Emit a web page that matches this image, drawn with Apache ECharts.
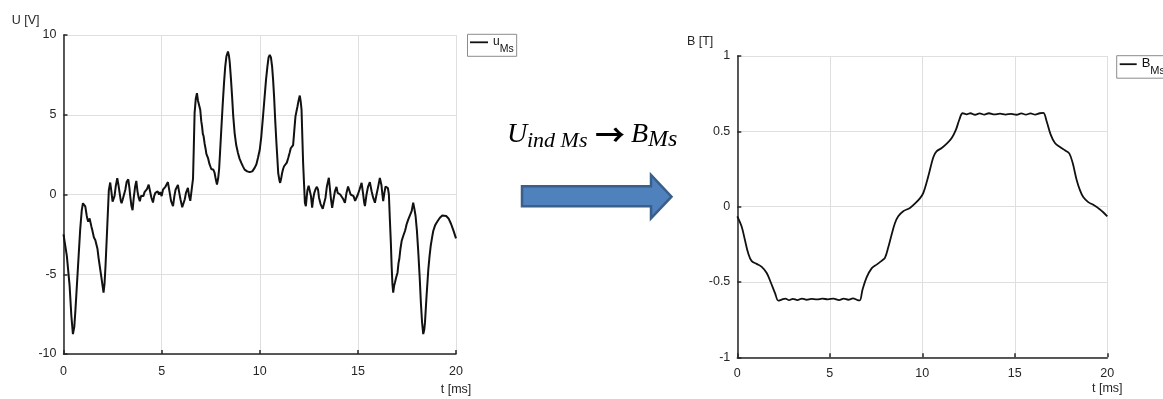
<!DOCTYPE html>
<html><head><meta charset="utf-8">
<script src="https://cdn.jsdelivr.net/npm/echarts@6/dist/echarts.min.js"></script>
<style>html,body{margin:0;padding:0;background:#fff}#c{width:1163px;height:399px}</style>
</head><body><div id="c"></div>
<script>
// ---- data ----
const timeTicks = [0, 5, 10, 15, 20];          // t [ms]
const uTicks = [-10, -5, 0, 5, 10];            // U [V]
const bTicks = [-1, -0.5, 0, 0.5, 1];          // B [T]

const tU = [
 0.00,0.17,0.31,0.40,0.48,0.55,0.61,0.73,0.85,0.93,
 0.99,1.05,1.11,1.18,1.21,1.26,1.29,1.33,1.36,1.42,
 1.46,1.55,1.62,1.67,1.73,1.79,1.92,2.04,2.09,2.14,
 2.23,2.31,2.38,2.44,2.50,2.55,2.60,2.66,2.74,2.80,
 2.86,2.92,2.96,3.02,3.06,3.15,3.22,3.30,3.36,3.40,
 3.46,3.52,3.58,3.65,3.71,3.77,3.83,3.89,3.95,4.01,
 4.07,4.13,4.20,4.26,4.34,4.41,4.48,4.56,4.62,4.68,
 4.75,4.80,4.87,4.93,5.00,5.07,5.13,5.20,5.32,5.40,
 5.48,5.58,5.65,5.71,5.83,5.90,5.96,6.05,6.12,6.18,
 6.24,6.34,6.40,6.46,6.52,6.56,6.60,6.64,6.68,6.74,
 6.80,6.85,6.89,6.93,6.97,7.02,7.06,7.10,7.14,7.19,
 7.25,7.28,7.31,7.36,7.40,7.44,7.48,7.53,7.58,7.64,
 7.70,7.76,7.82,7.88,7.93,7.98,8.04,8.11,8.18,8.24,
 8.30,8.38,8.43,8.47,8.53,8.59,8.65,8.72,8.80,8.89,
 8.97,9.06,9.15,9.23,9.36,9.49,9.62,9.74,9.83,9.91,
 10.00,10.08,10.16,10.25,10.32,10.39,10.45,10.51,10.57,10.63,
 10.68,10.73,10.79,10.85,10.90,10.94,11.00,11.04,11.09,11.14,
 11.19,11.24,11.29,11.33,11.38,11.45,11.52,11.58,11.64,11.70,
 11.76,11.82,11.87,11.92,11.98,12.04,12.09,12.13,12.17,12.21,
 12.26,12.30,12.35,12.39,12.43,12.49,12.55,12.61,12.67,12.72,
 12.78,12.85,12.91,12.97,13.02,13.10,13.21,13.28,13.35,13.42,
 13.52,13.58,13.63,13.69,13.76,13.83,13.91,13.97,14.02,14.10,
 14.16,14.26,14.34,14.42,14.50,14.56,14.63,14.70,14.78,14.86,
 14.93,15.00,15.08,15.19,15.26,15.32,15.36,15.44,15.52,15.61,
 15.70,15.78,15.87,15.95,16.02,16.12,16.20,16.25,16.29,16.35,
 16.41,16.46,16.53,16.58,16.63,16.68,16.72,16.76,16.80,16.85,
 16.89,16.95,17.02,17.07,17.11,17.17,17.23,17.27,17.31,17.36,
 17.40,17.44,17.48,17.53,17.57,17.62,17.66,17.74,17.82,17.88,
 17.94,18.01,18.08,18.15,18.21,18.27,18.33,18.38,18.42,18.50,
 18.59,18.65,18.71,18.78,18.84,18.93,19.01,19.10,19.18,19.30,
 19.40,19.50,19.62,19.75,19.88,20.00
];
const uMs = [
 -2.5,-3.85,-5.7,-7.6,-8.75,-8.3,-7.2,-4.7,-2.2,-1.0,
 -0.55,-0.6,-0.75,-1.3,-1.5,-1.7,-1.65,-1.5,-1.55,-2.0,
 -2.2,-2.7,-2.85,-2.95,-3.4,-4.0,-5.1,-6.15,-5.6,-4.5,
 -2.0,0.27,0.75,0.2,-0.45,-0.5,-0.1,0.5,1.02,0.6,
 0.1,-0.4,-0.55,-0.3,-0.2,0.3,0.8,0.95,0.4,-0.1,
 -0.7,-0.98,-0.2,0.5,0.85,0.2,-0.2,-0.42,-0.1,0.0,
 -0.1,0.15,0.05,0.35,0.62,0.2,-0.2,-0.5,-0.1,0.1,
 0.0,0.2,0.0,0.15,-0.1,0.3,0.2,0.5,0.78,0.2,
 -0.4,-0.73,-0.1,0.3,0.6,0.1,-0.3,-0.8,-0.92,-0.3,
 0.1,0.42,-0.1,-0.4,-0.52,-0.45,1.0,3.0,5.1,6.0,
 6.35,5.9,5.8,5.5,5.3,4.6,4.27,3.8,3.65,3.2,
 2.8,2.55,2.65,2.3,2.2,1.9,1.77,1.6,1.67,1.55,
 1.35,0.95,0.63,1.0,1.6,2.7,4.06,5.6,7.0,8.0,
 8.65,8.96,8.7,8.3,7.3,6.15,4.9,3.85,3.1,2.6,
 2.25,1.98,1.75,1.56,1.45,1.4,1.45,1.67,1.9,2.3,
 2.8,3.65,4.8,6.15,7.2,8.02,8.6,8.75,8.6,8.02,
 7.2,6.15,4.6,3.23,2.2,1.35,0.9,0.73,1.0,1.35,
 1.6,1.77,1.85,1.7,2.0,2.29,2.6,2.9,3.0,3.1,
 4.0,4.9,5.2,5.5,5.9,6.2,5.8,5.3,3.6,1.98,
 0.6,-0.52,-0.73,-0.2,0.27,0.55,0.65,-0.1,-0.83,-0.3,
 0.1,0.35,0.48,0.3,-0.2,-0.6,-0.9,-0.98,-0.2,0.5,
 1.05,0.3,-0.3,-0.83,-0.3,0.2,0.48,0.1,0.2,0.0,
 0.1,-0.3,-0.52,0.1,0.5,0.6,0.0,0.1,-0.1,-0.4,
 -0.52,0.0,0.3,0.73,0.1,-0.5,-0.73,0.0,0.5,0.77,
 0.2,-0.2,-0.52,0.0,0.4,1.04,0.6,0.0,-0.42,0.1,
 0.5,0.6,0.4,0.0,-1.56,-3.0,-4.48,-5.6,-6.15,-5.7,
 -5.52,-5.2,-4.9,-4.3,-4.06,-3.4,-2.92,-2.9,-2.6,-2.5,
 -2.29,-2.1,-1.88,-1.7,-1.56,-1.6,-1.5,-1.04,-0.52,-0.9,
 -1.35,-2.3,-3.65,-5.2,-6.77,-8.0,-8.75,-8.5,-8.02,-6.35,
 -4.69,-3.9,-3.23,-2.7,-2.29,-1.95,-1.77,-1.6,-1.46,-1.32,
 -1.3,-1.35,-1.5,-1.85,-2.3,-2.75
];

const tB = [
 0.00,0.23,0.41,0.59,0.77,1.05,1.32,1.59,1.80,2.04,
 2.22,2.40,2.60,2.80,3.00,3.25,3.50,3.75,4.00,4.30,
 4.60,4.90,5.20,5.50,5.75,6.00,6.25,6.50,6.62,6.77,
 6.99,7.26,7.53,7.80,7.98,8.16,8.34,8.52,8.70,8.97,
 9.33,9.60,9.87,10.05,10.32,10.60,10.77,11.05,11.32,11.59,
 11.82,12.00,12.18,12.40,12.60,12.85,13.10,13.35,13.60,13.90,
 14.20,14.50,14.80,15.10,15.35,15.60,15.85,16.10,16.35,16.54,
 16.72,16.94,17.17,17.44,17.71,17.95,18.13,18.34,18.52,18.70,
 18.97,19.24,19.57,19.78,20.00
];
const bMs = [
 -0.064,-0.13,-0.22,-0.31,-0.36,-0.38,-0.40,-0.44,-0.50,-0.574,
 -0.624,-0.617,-0.61,-0.621,-0.612,-0.62,-0.61,-0.618,-0.612,-0.616,
 -0.611,-0.615,-0.61,-0.62,-0.611,-0.618,-0.609,-0.62,-0.622,-0.55,
 -0.47,-0.41,-0.385,-0.36,-0.34,-0.27,-0.186,-0.11,-0.064,-0.03,
 -0.009,0.02,0.055,0.09,0.20,0.33,0.367,0.389,0.418,0.455,
 0.511,0.577,0.62,0.613,0.62,0.61,0.619,0.611,0.62,0.612,
 0.617,0.611,0.616,0.61,0.619,0.611,0.619,0.611,0.62,0.622,
 0.567,0.478,0.422,0.396,0.374,0.352,0.289,0.179,0.11,0.064,
 0.03,0.012,-0.015,-0.037,-0.064
];

// ---- chart ----
const pair = (xs, ys) => xs.map((x, i) => [x, ys[i]]);
const FONT = 'Liberation Sans';
const AX = '#262626';

function xAxisCfg(gridIndex, labelMargin, namePad) {
  return {
    type: 'value', gridIndex,
    min: timeTicks[0], max: timeTicks[timeTicks.length - 1],
    interval: timeTicks[1] - timeTicks[0],
    name: 't [ms]', nameLocation: 'end', nameGap: 0,
    nameTextStyle: { fontFamily: FONT, fontSize: 12.5, color: AX, align: 'center', verticalAlign: 'top', padding: [namePad, 0, 0, 0] },
    axisLine: { show: true, onZero: false, lineStyle: { color: AX, width: 1.5 } },
    axisTick: { show: true, inside: true, length: 4, lineStyle: { color: AX, width: 1.5 } },
    axisLabel: { fontFamily: FONT, fontSize: 12.5, color: AX, margin: labelMargin },
    splitLine: { show: true, lineStyle: { color: '#dfdfdf', width: 1 } }
  };
}
function yAxisCfg(gridIndex, ticks, name) {
  return {
    type: 'value', gridIndex,
    min: ticks[0], max: ticks[ticks.length - 1], interval: ticks[1] - ticks[0],
    name, nameLocation: 'end', nameGap: 14,
    nameTextStyle: { fontFamily: FONT, fontSize: 12.5, color: AX, align: 'right', verticalAlign: 'middle', padding: [0, 24, 0, 0] },
    axisLine: { show: true, onZero: false, lineStyle: { color: AX, width: 1.5 } },
    axisTick: { show: true, inside: true, length: 4, lineStyle: { color: AX, width: 1.5 } },
    axisLabel: { fontFamily: FONT, fontSize: 12.5, color: AX, margin: 7 },
    splitLine: { show: true, lineStyle: { color: '#dfdfdf', width: 1 } }
  };
}

const chart = echarts.init(document.getElementById('c'), null, { renderer: 'canvas' });
chart.setOption({
  animation: false,
  backgroundColor: '#fff',
  grid: [
    { left: 63.5, top: 35, width: 392.5, height: 319 },
    { left: 737.3, top: 56, width: 370, height: 301.3 }
  ],
  xAxis: [xAxisCfg(0, 11, 29), xAxisCfg(1, 10, 24.5)],
  yAxis: [yAxisCfg(0, uTicks, 'U [V]'), yAxisCfg(1, bTicks, 'B [T]')],
  legend: [
    {
      data: ['uMs'], left: 467.5, top: 34.3, orient: 'vertical', selectedMode: false,
      icon: 'rect', itemWidth: 18, itemHeight: 1.8,
      itemStyle: { color: '#111' },
      borderColor: '#8c8c8c', borderWidth: 1, borderRadius: 0, padding: [1.5, 3, 1.5, 2.5],
      formatter: () => '{a|u}{b|Ms}',
      textStyle: { fontFamily: FONT, color: '#111',
        rich: { a: { fontFamily: FONT, fontSize: 12, lineHeight: 13, verticalAlign: 'top', color: '#111' },
                b: { fontFamily: FONT, fontSize: 10.5, lineHeight: 11, padding: [8, 0, 0, 0], verticalAlign: 'top', color: '#111' } } }
    },
    {
      data: ['BMs'], left: 1116.7, top: 55.7, orient: 'vertical', selectedMode: false,
      icon: 'rect', itemWidth: 17, itemHeight: 1.8,
      itemStyle: { color: '#111' },
      borderColor: '#8c8c8c', borderWidth: 1, borderRadius: 0, padding: [1.5, 3, 1.5, 3],
      formatter: () => '{a|B}{b|Ms}',
      textStyle: { fontFamily: FONT, color: '#111',
        rich: { a: { fontFamily: FONT, fontSize: 13, lineHeight: 14, verticalAlign: 'top', color: '#111' },
                b: { fontFamily: FONT, fontSize: 11, lineHeight: 12, padding: [8.5, 0, 0, 0], verticalAlign: 'top', color: '#111' } } }
    }
  ],
  series: [
    { name: 'uMs', type: 'line', xAxisIndex: 0, yAxisIndex: 0, data: pair(tU, uMs),
      symbol: 'none', smooth: false, lineStyle: { color: '#111', width: 2 }, itemStyle: { color: '#111' } },
    { name: 'BMs', type: 'line', xAxisIndex: 1, yAxisIndex: 1, data: pair(tB, bMs),
      symbol: 'none', smooth: 0.35, lineStyle: { color: '#111', width: 1.8 }, itemStyle: { color: '#111' } }
  ],
  graphic: [
    { type: 'polygon', shape: { points: [[522,186.2],[651,186.2],[651,175],[671.5,196.7],[651,218.3],[651,206.2],[522,206.2]] },
      style: { fill: '#4F81BD', stroke: '#3A5F8B', lineWidth: 2.5 } },
    { type: 'text', x: 507, y: 135, style: { text: 'U', fontFamily: 'Liberation Serif', fontStyle: 'italic', fontSize: 28, fill: '#000', verticalAlign: 'middle' } },
    { type: 'text', x: 527, y: 141.3, style: { text: 'ind Ms', fontFamily: 'Liberation Serif', fontStyle: 'italic', fontSize: 22, fill: '#000', verticalAlign: 'middle' } },
    { type: 'text', x: 595, y: 135, style: { text: '→', fontFamily: 'Noto Sans CJK SC', fontWeight: 'bold', fontSize: 30, fill: '#000', verticalAlign: 'middle' } },
    { type: 'text', x: 631, y: 135, style: { text: 'B', fontFamily: 'Liberation Serif', fontStyle: 'italic', fontSize: 28, fill: '#000', verticalAlign: 'middle' } },
    { type: 'text', x: 648, y: 140, style: { text: 'Ms', fontFamily: 'Liberation Serif', fontStyle: 'italic', fontSize: 24, fill: '#000', verticalAlign: 'middle' } }
  ]
});
</script>
</body></html>
